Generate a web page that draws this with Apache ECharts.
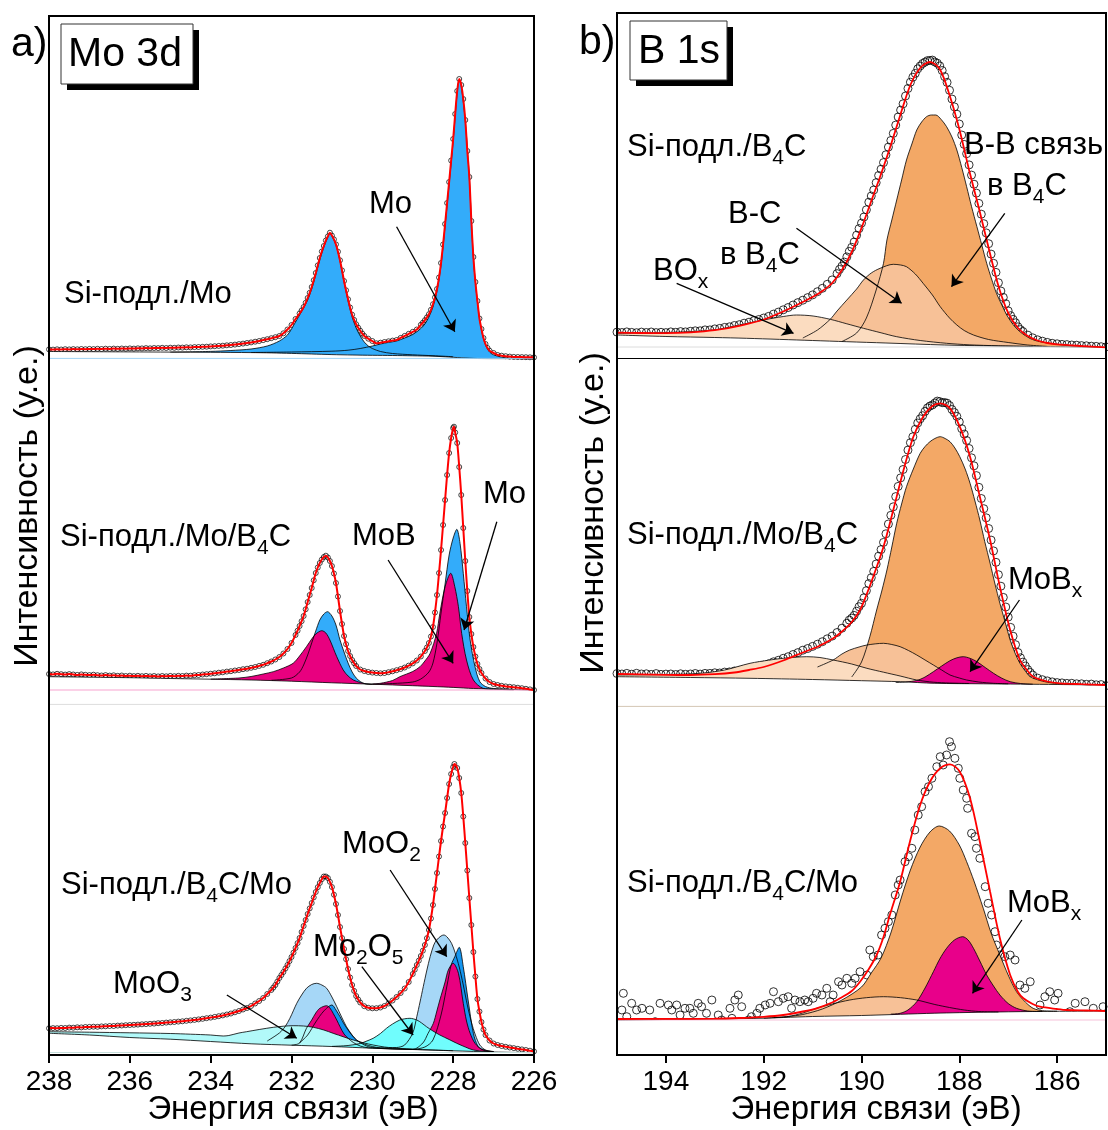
<!DOCTYPE html>
<html><head><meta charset="utf-8">
<script src="https://cdn.jsdelivr.net/npm/echarts@6/dist/echarts.min.js"></script>
<style>html,body{margin:0;padding:0;background:#fff}#c{width:1108px;height:1130px}</style>
</head><body><div id="c"></div>
<script>
// ---------------- DATA (binding energy eV, intensity arb. units) ----------------
const moTicks = [226, 228, 230, 232, 234, 236, 238];
const bTicks = [186, 188, 190, 192, 194];

// Mo 3d, Si-подл./Mo
const moTopSignal = [[238.0,9.6],[237.9,9.4],[237.8,9.7],[237.7,9.5],[237.6,9.8],[237.5,9.6],[237.4,9.9],[237.3,9.7],[237.2,10.0],[237.1,9.8],[237.0,10.1],[236.9,9.9],[236.8,10.2],[236.7,10.0],[236.6,10.3],[236.5,10.1],[236.4,10.4],[236.3,10.2],[236.2,10.5],[236.1,10.3],[236.0,10.6],[235.9,10.4],[235.8,10.7],[235.7,10.6],[235.6,10.9],[235.5,10.7],[235.4,11.0],[235.3,10.9],[235.2,11.2],[235.1,11.0],[235.0,11.3],[234.9,11.2],[234.8,11.5],[234.7,11.4],[234.6,11.7],[234.5,11.6],[234.4,11.9],[234.3,12.0],[234.2,12.2],[234.1,12.3],[234.0,12.6],[233.9,12.8],[233.8,13.1],[233.7,13.3],[233.6,13.7],[233.5,14.0],[233.4,14.4],[233.3,14.9],[233.2,15.4],[233.1,16.0],[233.0,16.6],[232.9,17.3],[232.8,18.0],[232.7,18.9],[232.6,19.8],[232.5,20.8],[232.4,21.8],[232.3,23.0],[232.2,25.7],[232.1,29.5],[232.0,34.0],[231.9,40.0],[231.8,45.5],[231.7,52.0],[231.6,61.0],[231.5,72.0],[231.4,86.0],[231.3,101.0],[231.2,113.0],[231.1,122.6],[231.05,126.3],[231.0,123.4],[230.9,114.6],[230.8,98.7],[230.7,78.0],[230.6,59.7],[230.5,44.3],[230.4,34.7],[230.3,28.3],[230.2,23.1],[230.1,20.3],[230.0,18.0],[229.9,15.7],[229.8,16.3],[229.7,17.0],[229.6,17.7],[229.5,18.4],[229.4,19.0],[229.3,21.1],[229.2,23.1],[229.1,25.2],[229.0,27.2],[228.9,29.5],[228.8,34.2],[228.7,38.8],[228.6,44.8],[228.5,54.8],[228.4,70.0],[228.3,96.0],[228.2,135.0],[228.1,177.0],[228.0,220.0],[227.9,268.0],[227.85,280.0],[227.8,274.0],[227.7,239.0],[227.6,182.0],[227.5,102.0],[227.4,58.0],[227.3,30.0],[227.2,15.0],[227.1,8.3],[227.0,6.0],[226.9,4.0],[226.8,3.3],[226.7,2.8],[226.6,2.4],[226.5,2.1],[226.4,2.0],[226.3,1.9],[226.2,1.8],[226.1,1.7],[226.0,1.6]];
const moTopSignalFine = [[231.75,48.5],[231.65,56.2],[231.55,66.2],[231.45,78.8],[231.35,93.6],[231.25,107.5],[231.15,118.5],[230.95,119.6],[230.85,107.3],[230.75,88.6],[230.65,68.7],[230.55,51.5],[230.45,39.1],[230.35,31.3],[230.25,25.5],[228.75,36.3],[228.65,41.6],[228.55,49.2],[228.45,61.6],[228.35,81.5],[228.25,114.5],[228.15,156],[228.05,198.5],[227.95,245],[227.75,260],[227.65,208],[227.55,138],[227.45,77],[227.35,40.5],[227.25,21],[227.15,11]];
const moTopBg = [[238,7.5],[237,7.3],[236,7.1],[235,6.9],[234,6.7],[233,6.4],[232.5,6.1],[232,5.6],[231.5,5.0],[231,4.4],[230.5,4.0],[230,3.7],[229.5,3.5],[229,3.2],[228.5,2.8],[228.2,2.2],[228,1.7],[227.8,1.2],[227.6,0.8],[227.4,0.5],[227,0.3],[226,0.2]];
const moTopMo32 = [[235.0,6.9],[234.0,7.6],[233.5,8.5],[233.0,10.0],[232.6,13],[232.3,18],[232.1,24],[232.0,30],[231.9,37],[231.8,44],[231.7,51],[231.6,59],[231.5,70],[231.4,84],[231.3,99],[231.2,112],[231.1,122],[231.05,126],[231.0,123],[230.9,114],[230.8,98],[230.7,77],[230.6,58],[230.5,42],[230.4,31],[230.3,23],[230.2,17],[230.1,13],[230.0,10.5],[229.8,7.5],[229.5,5.5],[229.0,4.2],[228.5,3.3],[228.0,2.3]];
const moTopMo52 = [[233.0,6.5],[232.0,7.0],[231.0,7.8],[230.6,8.8],[230.3,10.5],[230.0,13],[229.8,15],[229.6,16.6],[229.4,18],[229.2,21],[229.0,24.5],[228.8,30.5],[228.7,35],[228.6,42],[228.5,52],[228.4,68],[228.3,94],[228.2,133],[228.1,175],[228.0,218],[227.9,267],[227.85,279],[227.8,273],[227.7,238],[227.6,181],[227.5,101],[227.4,57],[227.3,29],[227.2,14],[227.1,7],[227.0,4.2],[226.8,1.8],[226.5,0.8],[226.0,0.4]];

// Mo 3d, Si-подл./Mo/B4C
const moMidSignal = [[238.0,31.0],[237.9,30.6],[237.8,31.2],[237.7,30.8],[237.6,30.4],[237.5,30.9],[237.4,30.5],[237.3,30.1],[237.2,30.6],[237.1,30.2],[237.0,29.9],[236.9,30.3],[236.8,29.8],[236.7,29.5],[236.6,29.9],[236.5,29.4],[236.4,29.7],[236.3,29.2],[236.2,29.5],[236.1,29.0],[236.0,29.3],[235.9,28.9],[235.8,29.2],[235.7,28.8],[235.6,29.1],[235.5,28.7],[235.4,29.0],[235.3,28.6],[235.2,29.0],[235.1,28.7],[235.0,29.1],[234.9,28.8],[234.8,29.2],[234.7,29.0],[234.6,29.4],[234.5,29.3],[234.4,29.8],[234.3,30.0],[234.2,30.5],[234.1,30.8],[234.0,31.3],[233.9,31.7],[233.8,32.3],[233.7,32.7],[233.6,33.4],[233.5,33.8],[233.4,34.5],[233.3,35.0],[233.2,35.8],[233.1,36.3],[233.0,37.2],[232.9,38.0],[232.8,39.1],[232.7,40.2],[232.6,41.8],[232.5,43.5],[232.4,45.5],[232.3,48.0],[232.2,51.5],[232.1,56.0],[232.0,62.0],[231.9,70.0],[231.8,79.0],[231.7,89.0],[231.6,103.0],[231.5,117.0],[231.4,132.0],[231.3,142.0],[231.2,148.0],[231.15,149.3],[231.1,147.5],[231.0,139.0],[230.9,122.0],[230.8,94.0],[230.7,69.0],[230.6,54.0],[230.5,45.0],[230.4,39.0],[230.3,35.5],[230.2,34.0],[230.1,33.0],[230.0,32.4],[229.9,32.0],[229.8,31.7],[229.7,32.0],[229.6,32.8],[229.5,33.7],[229.4,34.8],[229.3,36.0],[229.2,37.5],[229.1,39.4],[229.0,41.6],[228.9,44.5],[228.8,48.5],[228.7,54.0],[228.6,62.0],[228.5,78.0],[228.4,110.0],[228.3,155.0],[228.2,205.0],[228.1,252.0],[228.0,277.0],[227.98,278.3],[227.9,262.0],[227.8,210.0],[227.7,144.0],[227.6,88.0],[227.5,58.0],[227.4,41.0],[227.3,32.0],[227.2,26.5],[227.1,23.0],[227.0,21.0],[226.9,20.0],[226.8,19.2],[226.7,18.6],[226.6,18.2],[226.5,17.8],[226.4,17.3],[226.3,16.8],[226.2,16.2],[226.1,15.6],[226.0,15.0]];
const moMidSignalFine = [[231.85,74.3],[231.75,83.8],[231.65,95.7],[231.55,110],[231.45,124.7],[231.35,137.5],[231.25,145.5],[231.05,144],[230.95,131.5],[230.85,108.5],[230.75,81],[230.65,60.8],[230.55,49],[230.45,41.8],[228.65,57.5],[228.55,68.5],[228.45,92.5],[228.35,132],[228.25,180],[228.15,230],[228.05,267],[227.95,272.5],[227.85,238],[227.75,177],[227.65,114],[227.55,71],[227.45,48.5],[227.35,36]];
const moMidBg = [[238,28.3],[236,27.3],[235,26.5],[234,25.8],[233,25.0],[232,23.8],[231,22.2],[230,20.8],[229,19.3],[228.5,18.5],[228,17.6],[227.5,16.5],[227,16],[226,15]];
const moMidMo32 = [[232.5,24.7],[232.0,27],[231.8,33],[231.7,40],[231.6,50],[231.5,62],[231.4,74],[231.3,85],[231.2,91],[231.11,93.3],[231.0,89],[230.9,80],[230.8,65],[230.7,53],[230.6,42],[230.5,33],[230.4,27],[230.3,23.5],[230.2,21.5],[230.0,20.8]];
const moMidMo52 = [[230.0,20.8],[229.5,21.5],[229.0,23],[228.8,26],[228.6,33],[228.5,42],[228.4,62],[228.3,92],[228.2,121],[228.1,150],[228.0,167],[227.91,175.7],[227.83,161.7],[227.75,131.7],[227.67,98.3],[227.58,65],[227.46,38.3],[227.34,23.3],[227.2,18.5],[227.0,16.5],[226.5,15.5]];
const moMidMoB32 = [[234.0,25.9],[233.3,27],[233.0,28.5],[232.7,31],[232.45,33.3],[232.2,37],[231.96,41.7],[231.8,49],[231.63,58.3],[231.5,66],[231.4,71],[231.25,74.3],[231.15,72],[231.05,65],[230.88,48.3],[230.72,35],[230.6,29],[230.47,25],[230.3,22.5],[230.14,21],[230.0,20.6]];
const moMidMoB52 = [[230.0,21.0],[229.8,21.7],[229.5,24.5],[229.32,28.3],[229.0,33.5],[228.82,38.3],[228.7,44],[228.57,51.7],[228.41,71.7],[228.33,91.7],[228.2,118.3],[228.06,131.7],[227.96,118.3],[227.87,98.3],[227.79,71.7],[227.67,45],[227.5,25],[227.26,16.7],[227.0,15.8],[226.5,15.2]];

// Mo 3d, Si-подл./B4C/Mo
const moBotSignal = [[238.0,26.7],[237.9,26.9],[237.8,26.8],[237.7,27.1],[237.6,27.0],[237.5,27.4],[237.4,27.3],[237.3,27.7],[237.2,27.6],[237.1,28.0],[237.0,28.1],[236.9,28.3],[236.8,28.2],[236.7,28.6],[236.6,28.7],[236.5,29.0],[236.4,29.0],[236.3,29.4],[236.2,29.5],[236.1,29.8],[236.0,30.0],[235.9,30.2],[235.8,30.4],[235.7,30.7],[235.6,30.9],[235.5,31.2],[235.4,31.4],[235.3,31.8],[235.2,32.0],[235.1,32.4],[235.0,32.7],[234.9,33.0],[234.8,33.4],[234.7,33.7],[234.6,34.2],[234.5,34.6],[234.4,35.1],[234.3,35.6],[234.2,36.2],[234.1,36.8],[234.0,37.4],[233.9,38.1],[233.8,38.8],[233.7,39.6],[233.6,40.5],[233.5,41.5],[233.4,42.7],[233.3,44.0],[233.2,45.5],[233.1,47.0],[233.0,49.0],[232.9,51.5],[232.8,54.0],[232.7,57.0],[232.6,61.0],[232.5,65.0],[232.4,70.0],[232.3,77.0],[232.2,83.0],[232.1,90.0],[232.0,98.0],[231.9,107.0],[231.8,117.0],[231.7,129.0],[231.6,141.0],[231.5,152.0],[231.4,163.0],[231.3,172.0],[231.2,178.5],[231.1,177.0],[231.0,168.0],[230.9,151.0],[230.8,128.0],[230.7,106.0],[230.6,86.0],[230.5,70.0],[230.4,59.0],[230.3,52.5],[230.2,48.8],[230.1,47.2],[230.0,46.7],[229.9,46.8],[229.8,47.5],[229.7,49.0],[229.6,51.5],[229.5,54.5],[229.4,58.0],[229.3,62.0],[229.2,66.5],[229.1,73.0],[229.0,81.0],[228.9,90.0],[228.8,99.0],[228.7,110.0],[228.6,125.0],[228.5,150.0],[228.4,182.0],[228.3,214.0],[228.2,242.0],[228.1,271.0],[228.0,288.0],[227.97,291.0],[227.9,287.0],[227.8,262.0],[227.7,212.0],[227.6,157.0],[227.5,103.0],[227.4,56.0],[227.3,33.0],[227.2,20.0],[227.1,14.5],[227.0,11.5],[226.9,10.0],[226.8,9.0],[226.7,8.2],[226.6,7.5],[226.5,6.9],[226.4,6.2],[226.3,5.6],[226.2,5.0],[226.1,4.3],[226.0,3.6]];
const moBotSignalFine = [[232.45,67.4],[232.35,73.4],[232.25,80],[232.15,86.5],[232.05,93.9],[231.95,102.4],[231.85,111.9],[231.75,123],[231.65,135],[231.55,146.6],[231.45,157.6],[231.35,167.8],[231.25,175.8],[231.15,178.5],[231.05,173.2],[230.95,160.3],[230.85,140],[230.75,117],[230.65,95.8],[230.55,77.5],[230.45,64.1],[230.35,55.5],[228.95,85.4],[228.85,94.4],[228.75,104.3],[228.65,116.8],[228.55,136.5],[228.45,166],[228.35,198.5],[228.25,228.5],[228.15,257],[228.05,281],[227.85,277],[227.75,238.5],[227.65,184.5],[227.55,130],[227.45,78.5],[227.35,43.5],[227.25,25.5]];
const moBotBg = [[238,21.7],[237,20],[236,17.5],[235,15.8],[234,13.5],[233,11.2],[232,9.8],[231,8.5],[230,6.8],[229,5.5],[228,4.2],[227,3.0],[226,2.3]];
const moBotMoO2 = [[232.6,14],[232.3,22],[232.16,28.3],[232.04,36.7],[231.87,51.7],[231.75,60],[231.63,66.7],[231.5,70.5],[231.38,71.7],[231.25,70],[231.13,66.7],[231.0,58],[230.88,48.3],[230.76,38],[230.64,28.3],[230.5,20],[230.39,15],[230.2,11],[230.0,8.5],[229.8,7.2],[229.4,7.5],[229.2,10],[229.0,22],[228.9,38.3],[228.82,53],[228.74,68.3],[228.65,85],[228.57,98.3],[228.48,110],[228.41,115],[228.3,119],[228.23,120],[228.15,118],[228.04,111.7],[227.95,102],[227.85,88],[227.75,70],[227.65,50],[227.55,33],[227.45,20],[227.34,10],[227.2,5],[227.0,3.5]];
const moBotMo = [[231.8,12],[231.6,20],[231.4,33],[231.2,44],[231.0,50],[230.9,45],[230.8,38.3],[230.7,31],[230.6,25],[230.5,19.5],[230.39,15],[230.2,10],[230.0,7.5],[229.0,5.8],[228.7,8],[228.5,15],[228.3,40],[228.15,70],[228.05,90],[227.96,98.3],[227.85,107.7],[227.75,88.3],[227.63,55],[227.5,21.7],[227.38,8.3],[227.2,4],[227.0,3.1]];
const moBotMoB = [[232.0,9.8],[231.8,12],[231.63,26.7],[231.5,35],[231.4,42],[231.3,46.7],[231.13,49.3],[231.05,47],[230.97,41.7],[230.88,35],[230.8,28.3],[230.7,21],[230.6,16.7],[230.47,12.5],[230.3,9],[230.1,7.2],[229.0,5.6],[228.75,12],[228.62,21.7],[228.49,31.7],[228.41,43],[228.33,55],[228.2,73],[228.12,85],[228.0,91.7],[227.87,81.7],[227.75,51.7],[227.67,34],[227.58,21.7],[227.46,11.7],[227.3,6],[227.0,3.2]];
const moBotMoO3 = [[238,23.3],[237,22.8],[236,22.2],[235,21.5],[234.5,20.8],[234,20],[233.69,19],[233.55,19.5],[233.3,22],[233.11,23.3],[232.8,25.5],[232.45,27.7],[232.2,28.8],[231.96,29.3],[231.7,29],[231.46,27.7],[231.2,25],[230.97,21.7],[230.7,18],[230.47,15],[230.2,12],[229.98,10],[229.7,8],[229.3,6.5],[229,5.7],[228.5,5.0],[228,4.3]];
const moBotMo2O5 = [[231.0,8.6],[230.6,9.5],[230.3,11.5],[230.18,13.3],[229.98,16.7],[229.8,21.5],[229.65,26.7],[229.5,31],[229.32,35],[229.2,36.2],[229.07,36.7],[228.9,35],[228.78,32],[228.66,28.3],[228.5,24],[228.33,20],[228.1,15.5],[227.91,11.7],[227.7,8],[227.5,5],[227.2,3.6],[227,3.1]];

// B 1s, Si-подл./B4C
const bTopData = [[195.0,25.9],[194.9,25.5],[194.8,26.1],[194.7,25.6],[194.6,25.3],[194.5,25.9],[194.4,25.5],[194.3,26.0],[194.2,25.4],[194.1,25.7],[194.0,25.4],[193.9,26.1],[193.8,25.7],[193.7,26.4],[193.6,26.1],[193.5,26.7],[193.4,27.2],[193.3,27.2],[193.2,28.1],[193.1,28.1],[193.0,29.1],[192.9,29.6],[192.8,30.6],[192.7,31.2],[192.6,32.5],[192.5,33.3],[192.4,34.8],[192.3,35.8],[192.2,37.4],[192.1,38.5],[192.0,40.0],[191.9,41.6],[191.8,43.9],[191.7,45.9],[191.6,48.2],[191.5,50.5],[191.4,53.0],[191.3,55.4],[191.2,57.8],[191.1,60.4],[191.0,63.1],[190.9,66.3],[190.8,69.7],[190.7,73.7],[190.6,78.1],[190.5,84.4],[190.4,91.9],[190.3,101.1],[190.2,110.7],[190.1,122.8],[190.0,134.9],[189.9,148.2],[189.8,162.0],[189.7,175.3],[189.6,188.8],[189.5,203.2],[189.4,217.5],[189.3,232.9],[189.2,247.9],[189.1,262.0],[189.0,275.8],[188.9,284.6],[188.8,292.0],[188.7,295.9],[188.6,297.5],[188.5,296.0],[188.4,292.1],[188.3,281.4],[188.2,267.7],[188.1,251.1],[188.0,234.0],[187.9,213.6],[187.8,193.1],[187.7,173.8],[187.6,154.6],[187.5,134.3],[187.4,114.3],[187.3,94.7],[187.2,75.3],[187.1,60.6],[187.0,47.1],[186.9,38.6],[186.8,31.2],[186.7,26.5],[186.6,22.9],[186.5,20.2],[186.4,18.2],[186.3,16.8],[186.2,15.6],[186.1,14.7],[186.0,14.2],[185.9,13.6],[185.8,13.4],[185.7,13.0],[185.6,12.8],[185.5,12.4],[185.4,12.2],[185.3,11.8],[185.2,11.6],[185.1,11.3],[185.0,11.1]];
const bTopDataFine = [[190.45,88.6],[190.35,95.9],[190.25,106.6],[190.15,116.0],[190.05,129.4],[189.95,141.0],[189.85,155.8],[189.75,168.0],[189.65,182.5],[189.55,195.4],[189.45,210.9],[189.35,224.6],[189.25,241.0],[189.15,254.2],[189.05,269.5],[188.95,280.8],[188.85,289.2],[188.75,294.5],[188.65,297.4],[188.55,297.9],[188.45,294.8],[188.35,287.5],[188.25,275.6],[188.15,259.0],[188.05,243.8],[187.95,223.0],[187.85,204.3],[187.75,182.9],[187.65,164.9],[187.55,143.8],[187.45,125.1],[187.35,103.9],[187.25,85.6],[187.15,67.0],[187.05,54.3],[186.95,42.3],[186.85,35.2],[186.75,28.4]];
const bTopFit = [[195,25.3],[194.5,25.0],[194,24.8],[193.5,25.6],[193,27.8],[192.5,32.2],[192,38.5],[191.6,46.5],[191.2,56],[191,61],[190.8,67],[190.6,75],[190.4,88],[190.2,106],[190,130],[189.8,157],[189.6,184],[189.4,213],[189.2,244],[189,273],[188.8,290],[188.6,296],[188.4,289],[188.2,263],[188,229],[187.8,188],[187.6,150],[187.4,110],[187.2,72],[187,45],[186.8,30],[186.6,22],[186.4,17.5],[186.2,15.0],[186,13.6],[185.5,12],[185,10.7]];
const bTopBg = [[195,23],[194,21.5],[193,20.5],[192.35,19.7],[191,17.5],[190.3,16.3],[189.5,15.0],[188.3,13],[187.5,12.2],[186.3,11.5],[185,10.7]];
const bTopBB = [[190.4,16.5],[190.1,25],[189.9,40],[189.7,68],[189.55,94.7],[189.48,118],[189.38,138],[189.28,158],[189.18,178],[189.08,198],[188.97,214],[188.87,228],[188.77,236],[188.67,241.3],[188.57,243],[188.48,243],[188.37,238.5],[188.26,231.3],[188.15,221],[188.05,208],[187.95,190.5],[187.85,171.3],[187.75,151.5],[187.64,131.3],[187.54,113],[187.44,94.7],[187.34,79],[187.24,64.7],[187.13,53],[187.03,43],[186.9,33.5],[186.76,26.3],[186.55,19.5],[186.35,16.3],[185.87,13],[185.4,11.5],[185.0,10.8]];
const bTopBC = [[191.2,20],[190.9,28],[190.64,38.7],[190.5,47],[190.3,58],[190.1,69],[189.96,78],[189.8,85],[189.62,89.7],[189.35,93.7],[189.2,93],[189.08,91.3],[188.9,84],[188.74,74.7],[188.55,63],[188.39,51.3],[188.2,40],[188.05,33],[187.9,27.5],[187.71,23],[187.4,18.5],[187.0,15.5],[186.6,13],[186.2,11.6]];
const bTopBOx = [[195,24.7],[194,25.5],[193.03,28],[192.5,33],[192.01,38],[191.6,41.5],[191.33,43],[190.99,42],[190.64,38.7],[190.3,34.2],[189.96,29.7],[189.6,25.2],[189.28,21.3],[188.8,17.5],[188.26,14.7],[187.8,13.2],[187.2,12.2],[186.5,11.5]];

// B 1s, Si-подл./Mo/B4C
const bMidData = [[195.0,33.5],[194.9,33.0],[194.8,33.6],[194.7,32.8],[194.6,33.7],[194.5,33.0],[194.4,33.2],[194.3,32.6],[194.2,33.4],[194.1,32.6],[194.0,32.9],[193.9,33.0],[193.8,32.5],[193.7,33.2],[193.6,32.7],[193.5,33.0],[193.4,33.5],[193.3,32.9],[193.2,33.6],[193.1,33.6],[193.0,34.2],[192.9,34.0],[192.8,34.9],[192.7,35.1],[192.6,36.0],[192.5,36.6],[192.4,37.7],[192.3,38.7],[192.2,39.6],[192.1,40.8],[192.0,41.8],[191.9,43.2],[191.8,45.2],[191.7,46.7],[191.6,48.7],[191.5,50.3],[191.4,52.5],[191.3,54.4],[191.2,56.8],[191.1,58.5],[191.0,60.6],[190.9,62.8],[190.8,65.3],[190.7,68.2],[190.6,70.9],[190.5,74.5],[190.4,78.8],[190.3,83.7],[190.2,88.9],[190.1,95.8],[190.0,103.7],[189.9,116.3],[189.8,129.3],[189.7,143.0],[189.6,157.4],[189.5,173.2],[189.4,191.7],[189.3,210.4],[189.2,229.1],[189.1,247.5],[189.0,264.3],[188.9,277.7],[188.8,288.2],[188.7,295.6],[188.6,301.0],[188.5,304.0],[188.4,305.4],[188.3,304.5],[188.2,301.5],[188.1,294.4],[188.0,285.1],[187.9,272.9],[187.8,258.5],[187.7,241.2],[187.6,219.7],[187.5,198.3],[187.4,178.5],[187.3,156.1],[187.2,132.3],[187.1,109.6],[187.0,89.9],[186.9,70.8],[186.8,54.5],[186.7,44.9],[186.6,37.4],[186.5,32.0],[186.4,28.9],[186.3,27.3],[186.2,26.1],[186.1,25.1],[186.0,24.4],[185.9,24.1],[185.8,23.6],[185.7,23.7],[185.6,23.2],[185.5,23.2],[185.4,22.7],[185.3,22.9],[185.2,22.2],[185.1,22.4],[185.0,21.3]];
const bMidDataFine = [[190.25,86.9],[190.15,91.6],[190.05,100.3],[189.95,109.2],[189.85,123.4],[189.75,135.6],[189.65,150.8],[189.55,164.6],[189.45,183.0],[189.35,200.2],[189.25,220.6],[189.15,237.5],[189.05,256.9],[188.95,270.2],[188.85,284.0],[188.75,291.3],[188.65,299.1],[188.55,302.0],[188.45,305.9],[188.35,304.3],[188.25,303.8],[188.15,297.5],[188.05,290.6],[187.95,278.3],[187.85,266.5],[187.75,249.2],[187.65,231.4],[187.55,208.5],[187.45,189.2],[187.35,166.9],[187.25,144.7],[187.15,120.8],[187.05,100.0],[186.95,79.6],[186.85,62.3],[186.75,49.2],[186.65,41.0],[186.55,34.5]];
const bMidFit = [[195,33],[194.5,32.6],[194,32.1],[193.5,32],[193,32.8],[192.6,34.5],[192.3,37],[192,40],[191.6,46.5],[191.2,54.5],[190.9,60.3],[190.6,68],[190.44,73.7],[190.2,85],[190.03,97],[189.9,112],[189.76,130.3],[189.55,160.3],[189.35,197],[189.14,237],[188.94,270.3],[188.74,290.3],[188.55,301],[188.39,303.7],[188.19,298.7],[187.99,280.3],[187.78,250.3],[187.58,210.3],[187.37,167],[187.17,120.3],[186.96,77],[186.76,47],[186.6,36],[186.49,30.3],[186.2,25.5],[185.94,23.7],[185.5,22.8],[185.0,22]];
const bMidBg = [[195,30.3],[193.5,29.5],[192.28,28.7],[191,27.5],[190,26.3],[189.2,25.3],[188.5,23.7],[187.5,23.2],[186,22.5],[185,22]];
const bMidBB = [[190.2,30],[190.0,45],[189.83,70.3],[189.69,97],[189.58,117],[189.48,137],[189.38,160],[189.28,183.7],[189.18,203],[189.08,220.3],[188.94,238],[188.8,253.7],[188.7,260.5],[188.6,265.3],[188.5,268.5],[188.39,270.3],[188.29,268.5],[188.19,265.3],[188.09,259],[187.99,250.3],[187.88,238],[187.78,223.7],[187.68,206],[187.58,187],[187.48,165.5],[187.37,143.7],[187.27,123],[187.17,103.7],[187.06,84.5],[186.96,67],[186.86,54],[186.76,43.7],[186.65,36],[186.55,30.3],[186.35,26.5],[186.14,24.3],[185.8,23],[185.3,22.2]];
const bMidBC = [[190.9,40],[190.58,47],[190.4,53],[190.24,57],[190.05,60],[189.89,62],[189.55,63.7],[189.38,62.5],[189.21,60.3],[189.04,56.5],[188.87,52],[188.7,47],[188.53,42],[188.36,37],[188.19,32],[188.0,29],[187.85,27],[187.6,25],[187.3,23.7],[187,23.2]];
const bMidBOx = [[195,32],[194,32.5],[193.3,33.7],[192.8,37],[192.28,43.7],[191.9,46.8],[191.6,48.7],[191.12,50.3],[190.85,49.5],[190.58,47],[190.2,43],[189.89,38.7],[189.55,34.8],[189.21,31],[188.87,27],[188.53,24.8],[188.2,24],[187.8,23.5]];
const bMidMoBx = [[189.3,24.5],[189.1,25],[188.87,26.5],[188.7,30],[188.53,35.3],[188.36,41],[188.19,46.3],[188.05,49.2],[187.92,50.3],[187.78,48.7],[187.64,45.3],[187.47,39.5],[187.3,33.7],[187.13,28.8],[186.96,25.3],[186.75,23.5],[186.5,22.8]];

// B 1s, Si-подл./B4C/Mo
const bBotData = [[194.87,61.7],[194.90,45],[194.80,38.3],[194.70,51.7],[194.60,45],[194.49,46.7],[194.43,23.3],[194.33,45],[194.22,33.3],[194.12,51.7],[194.02,28.3],[193.95,50],[193.88,45],[193.78,50],[193.71,40],[193.61,46.7],[193.51,46.7],[193.44,41.7],[193.34,51.7],[193.27,48.3],[193.17,41.7],[193.06,55],[193.0,26.7],[192.93,40],[192.86,35],[192.76,18.3],[192.69,46.7],[192.65,36.7],[192.59,55],[192.52,60],[192.45,48.3],[192.35,21.7],[192.31,35],[192.25,38.3],[192.14,41.7],[192.08,46.7],[191.97,50],[191.87,51.7],[191.80,63.3],[191.70,53.3],[191.60,56.7],[191.50,58.3],[191.43,46.7],[191.36,55],[191.26,53.3],[191.16,55],[191.09,53.3],[190.99,56.7],[190.92,61.7],[190.81,60],[190.71,66.7],[190.64,53.3],[190.58,60],[190.47,73.3],[190.40,70],[190.30,76.7],[190.20,71.7],[190.13,76.7],[190.03,83.3],[189.89,80],[189.83,105],[189.76,98.3],[189.66,100],[189.59,120],[189.52,126.7],[189.45,133.3],[189.38,140],[189.31,160],[189.25,170],[189.21,175],[189.11,193.3],[189.04,198.3],[188.97,206.7],[188.91,225],[188.84,240],[188.77,248.3],[188.70,263.3],[188.63,268.3],[188.56,276.7],[188.46,288.3],[188.39,298.3],[188.33,290],[188.26,300],[188.20,313.3],[188.16,308.3],[188.09,296.7],[188.02,286.7],[187.99,276.7],[187.92,265],[187.85,256.7],[187.83,246.7],[187.75,221.7],[187.68,218.3],[187.65,206.7],[187.58,196.7],[187.47,168.3],[187.41,151.7],[187.34,140],[187.27,123.3],[187.24,110],[187.17,100],[187.07,98.3],[186.96,100],[186.86,95],[186.76,70],[186.66,66.7],[186.55,73.3],[186.45,35],[186.35,50],[186.25,58.3],[186.15,63.3],[186.05,55],[185.98,61.7],[185.91,36.7],[185.80,36.7],[185.74,43.3],[185.63,51.7],[185.53,38.3],[185.43,53.3],[185.33,36.7],[185.26,46.7],[185.16,40],[185.06,48.3]];
const bBotFit = [[195,36],[194,36.1],[193,36.3],[192.5,37],[192,38.2],[191.6,40],[191.2,43.5],[190.92,46.7],[190.6,52.5],[190.44,56.7],[190.2,64],[190.03,73.3],[189.85,86],[189.69,100],[189.55,118],[189.42,140],[189.21,173.3],[189.01,213.3],[188.8,250],[188.6,273.3],[188.39,286.7],[188.19,290.7],[187.99,283.3],[187.78,256.7],[187.58,213.3],[187.37,163.3],[187.17,116.7],[186.96,80],[186.8,63],[186.69,56.7],[186.5,51],[186.35,48.3],[186.0,46],[185.8,45],[185.4,44.5],[185.0,44]];
const bBotBg = [[195,35],[194,35.5],[193,36],[192,36.8],[191.6,37.5],[191,38.5],[190,39.5],[189.2,40.7],[188.5,41.8],[187.5,42.8],[186.5,43.5],[185,44]];
const bBotBB = [[192,36.8],[191.5,38.5],[191.2,40.5],[190.8,46],[190.4,55],[190.0,68],[189.8,82],[189.6,97],[189.4,122],[189.2,155],[189.0,185],[188.8,208],[188.6,223],[188.41,229],[188.2,224],[188.0,210],[187.85,193.3],[187.7,174],[187.51,146.7],[187.35,122],[187.17,100],[187.0,80],[186.83,63.3],[186.65,53],[186.49,46.7],[186.3,44.3],[186.0,43.8]];
const bBotBC = [[191.8,37.3],[191.5,38.5],[191.2,42],[190.92,46.7],[190.6,51],[190.24,55],[189.9,57.3],[189.55,58.3],[189.2,57.3],[188.87,55],[188.7,53],[188.5,50.5],[188.2,47.5],[187.9,45],[187.6,43.5],[187.2,43]];
const bBotMoBx = [[189.4,40.9],[189.21,41.7],[189.05,45],[188.87,53.3],[188.7,67],[188.53,83.3],[188.4,96],[188.26,106.7],[188.1,115],[187.93,118.3],[187.82,115],[187.71,106.7],[187.58,94],[187.44,80],[187.3,69],[187.17,60],[187.0,51.5],[186.83,46.7],[186.6,44],[186.3,43.5]];

// annotation arrows [from, to] in data coordinates
const moTopArrows = [[[229.40,132.3],[227.96,27.3]]];
const moMidArrows = [[[229.61,145],[228.0,41.7]], [[226.92,183.3],[227.73,75]]];
const moBotArrows = [[[229.56,185],[228.16,98.3]], [[230.26,88.3],[228.99,20]], [[233.60,60],[231.87,16.7]]];
const bTopArrows = [[[187.07,144.7],[188.16,71.3]], [[191.33,129.7],[189.18,54.7]], [[193.78,74.7],[191.39,24.7]]];
const bMidArrows = [[[186.77,107],[187.78,35.3]]];
const bBotArrows = [[[186.72,135],[187.73,61.7]]];

// ---------------- CHART ----------------
const FONT = '"Liberation Sans", Arial, Helvetica, sans-serif';
const C = {
  mo: '#33acfa', moDark: '#1596f0', moB: '#e8007f', moO2: '#a6d7f7', moO3: '#b2f9f9', mo2O5: '#70fdfd',
  bb: '#f3a866', bc: '#f7c197', box: '#fbdcc0', moBx: '#e8008a'
};
const byEnergy = (a, b) => b[0] - a[0];
const merge = (a, b) => a.concat(b).sort(byEnergy);
const chart = echarts.init(document.getElementById('c'), null, {renderer: 'canvas'});

const grids = [
  {left: 49, top: 16, width: 485, height: 343},
  {left: 49, top: 359, width: 485, height: 346},
  {left: 49, top: 705, width: 485, height: 350},
  {left: 617, top: 13, width: 489, height: 345},
  {left: 617, top: 358, width: 489, height: 349},
  {left: 617, top: 707, width: 489, height: 348}
].map(g => Object.assign({containLabel: false, outerBoundsMode: 'none', show: false}, g));

function xAx(i) {
  const left = i < 3;
  const bottom = (i === 2 || i === 5);
  return {
    gridIndex: i, type: 'value', inverse: true,
    min: left ? 226 : 185, max: left ? 238 : 195,
    splitLine: {show: false},
    axisLine: {show: bottom || i === 3, onZero: false, lineStyle: {color: '#000', width: 2}},
    axisTick: {show: bottom, inside: false, length: 8, lineStyle: {color: '#000', width: 2},
      customValues: left ? moTicks : bTicks},
    axisLabel: {show: bottom, color: '#000', fontSize: 28, fontFamily: FONT, margin: 13,
      customValues: left ? moTicks : bTicks, showMinLabel: true, showMaxLabel: true,
      formatter: v => String(v)},
    minorTick: {show: false}
  };
}
function yAx(i) {
  return {gridIndex: i, type: 'value', min: 0, max: grids[i].height, show: false,
    splitLine: {show: false}};
}

const series = [];
function comp(g, data, color) {
  series.push({type: 'line', xAxisIndex: g, yAxisIndex: g, data, smooth: 0.3, symbol: 'none',
    silent: true, lineStyle: {color: '#000', width: 0.8},
    areaStyle: {color, opacity: 1, origin: 'start'}});
}
function mask(g, data) {
  series.push({type: 'line', xAxisIndex: g, yAxisIndex: g, data, smooth: 0.3, symbol: 'none',
    silent: true, lineStyle: {color: '#000', width: 0.8},
    areaStyle: {color: '#fff', opacity: 1, origin: 'start'}});
}
function level(g, v, color, r) {
  series.push({type: 'line', xAxisIndex: g, yAxisIndex: g, data: [[r[0], v], [r[1], v]],
    symbol: 'none', silent: true, lineStyle: {color, width: 1}});
}
function dots(g, data, size, bw) {
  series.push({type: 'scatter', xAxisIndex: g, yAxisIndex: g, data, symbol: 'circle',
    symbolSize: size, silent: true,
    itemStyle: {color: 'rgba(255,255,255,0)', borderColor: '#000', borderWidth: bw}});
}
function fit(g, data, w, arrows) {
  series.push({type: 'line', xAxisIndex: g, yAxisIndex: g, data, smooth: 0.3, symbol: 'none',
    silent: true, lineStyle: {color: '#ff0000', width: w}, z: 3,
    markLine: {silent: true, animation: false, symbol: ['none', 'arrow'], symbolSize: 11,
      label: {show: false}, lineStyle: {color: '#000', width: 1.3, type: 'solid'},
      emphasis: {disabled: true},
      data: arrows.map(a => [{coord: a[0]}, {coord: a[1]}])}});
}
const LR = [238, 226], RR = [195, 185];

// Mo 3d top
const moTopAll = merge(moTopSignal, moTopSignalFine);
comp(0, moTopMo32, C.mo); comp(0, moTopMo52, C.mo); mask(0, moTopBg);
level(0, 0.6, '#9fd3f5', LR); dots(0, moTopAll, 5, 0.9); fit(0, moTopAll, 2, moTopArrows);
// Mo 3d middle
const moMidAll = merge(moMidSignal, moMidSignalFine);
comp(1, moMidMo32, C.mo); comp(1, moMidMo52, C.mo); comp(1, moMidMoB32, C.moB); comp(1, moMidMoB52, C.moB);
mask(1, moMidBg); level(1, 15, '#f7a3cf', LR); level(1, 0.6, '#dddddd', LR);
dots(1, moMidAll, 5, 0.9); fit(1, moMidAll, 2, moMidArrows);
// Mo 3d bottom
const moBotAll = merge(moBotSignal, moBotSignalFine);
comp(2, moBotMoO2, C.moO2); comp(2, moBotMo, C.moDark); comp(2, moBotMoB, C.moB);
comp(2, moBotMoO3, C.moO3); comp(2, moBotMo2O5, C.mo2O5); mask(2, moBotBg);
level(2, 2.5, '#c6dfdc', LR); dots(2, moBotAll, 5, 0.9); fit(2, moBotAll, 2, moBotArrows);
// B 1s top
comp(3, bTopBB, C.bb); comp(3, bTopBC, C.bc); comp(3, bTopBOx, C.box); mask(3, bTopBg);
level(3, 11, '#dcdcdc', RR); dots(3, merge(bTopData, bTopDataFine), 8, 1); fit(3, bTopFit, 1.8, bTopArrows);
// B 1s middle
comp(4, bMidBB, C.bb); comp(4, bMidBC, C.bc); comp(4, bMidBOx, C.box); comp(4, bMidMoBx, C.moBx);
mask(4, bMidBg); level(4, 0.6, '#d4c6b5', RR); dots(4, merge(bMidData, bMidDataFine), 8, 1); fit(4, bMidFit, 1.8, bMidArrows);
// B 1s bottom
comp(5, bBotBB, C.bb); comp(5, bBotBC, C.bc); comp(5, bBotMoBx, C.moBx); mask(5, bBotBg);
level(5, 35, '#f6c1d9', RR); dots(5, bBotData, 8, 1); fit(5, bBotFit, 1.8, bBotArrows);

// ---------------- TEXT & FRAMES ----------------
const RICH = {
  m: {fontSize: 31, fontFamily: FONT, color: '#000', lineHeight: 44, verticalAlign: 'middle'},
  s: {fontSize: 21, fontFamily: FONT, color: '#000', lineHeight: 21, verticalAlign: 'bottom'}
};
function label(x, y, text) {
  return {type: 'text', z: 100, silent: true,
    style: {x, y, text, fill: '#000', fontSize: 31, fontFamily: FONT,
      align: 'left', textAlign: 'left', verticalAlign: 'middle', textVerticalAlign: 'middle', rich: RICH}};
}
function plain(x, y, text, size, align, rot) {
  return {type: 'text', z: 100, silent: true, x, y, rotation: rot || 0,
    style: {x: 0, y: 0, text, fill: '#000', fontSize: size, fontFamily: FONT,
      align: align || 'left', textAlign: align || 'left', verticalAlign: 'middle', textVerticalAlign: 'middle'}};
}
function rect(x, y, w, h, fill, stroke, lw) {
  return {type: 'rect', z: 100, silent: true, shape: {x, y, width: w, height: h},
    style: {fill, stroke, lineWidth: lw}};
}
const graphic = [
  rect(49, 16, 485, 1039, 'none', '#000', 2),
  rect(617, 13, 489, 1042, 'none', '#000', 2),
  rect(67, 30, 132, 60, '#000', null, 0),
  rect(61, 24, 132, 60, '#fff', '#333', 1),
  rect(636, 27, 97, 59, '#000', null, 0),
  rect(630, 21, 97, 59, '#fff', '#333', 1),
  plain(68, 55, 'Mo 3d', 41),
  plain(638, 52, 'B 1s', 41),
  plain(11, 45, 'a)', 41),
  plain(579, 43, 'b)', 41),
  plain(293, 1110, 'Энергия связи (эВ)', 33, 'center'),
  plain(876, 1110, 'Энергия связи (эВ)', 33, 'center'),
  plain(28, 506, 'Интенсивность (у.е.)', 34, 'center', Math.PI / 2),
  plain(594, 513, 'Интенсивность (у.е.)', 34, 'center', Math.PI / 2),
  label(64, 294, '{m|Si-подл./Mo}'),
  label(369, 204, '{m|Mo}'),
  label(60, 537, '{m|Si-подл./Mo/B}{s|4}{m|C}'),
  label(352, 536, '{m|MoB}'),
  label(483, 494, '{m|Mo}'),
  label(61, 885, '{m|Si-подл./B}{s|4}{m|C/Mo}'),
  label(342, 844, '{m|MoO}{s|2}'),
  label(313, 947, '{m|Mo}{s|2}{m|O}{s|5}'),
  label(113, 984, '{m|MoO}{s|3}'),
  label(627, 147, '{m|Si-подл./B}{s|4}{m|C}'),
  label(964, 145, '{m|B-B связь}'),
  label(987, 186, '{m|в B}{s|4}{m|C}'),
  label(728, 214, '{m|B-C}'),
  label(720, 255, '{m|в B}{s|4}{m|C}'),
  label(653, 271, '{m|BO}{s|x}'),
  label(627, 535, '{m|Si-подл./Mo/B}{s|4}{m|C}'),
  label(1008, 580, '{m|MoB}{s|x}'),
  label(627, 883, '{m|Si-подл./B}{s|4}{m|C/Mo}'),
  label(1007, 903, '{m|MoB}{s|x}')
];

chart.setOption({
  animation: false,
  backgroundColor: '#fff',
  textStyle: {fontFamily: FONT},
  grid: grids,
  xAxis: grids.map((g, i) => xAx(i)),
  yAxis: grids.map((g, i) => yAx(i)),
  series,
  graphic
});
</script></body></html>
